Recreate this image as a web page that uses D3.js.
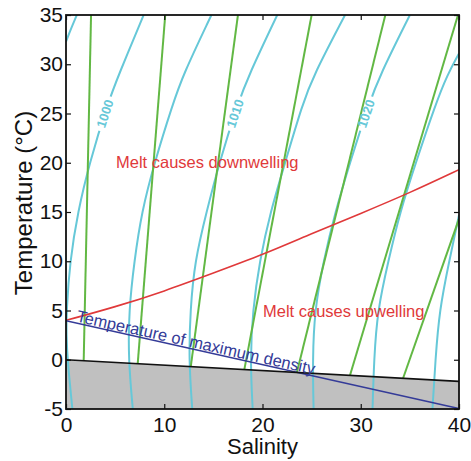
<!DOCTYPE html>
<html>
<head>
<meta charset="utf-8">
<script src="https://cdn.jsdelivr.net/npm/d3@7"></script>
<style>
  html, body { margin: 0; padding: 0; background: #fff; }
  svg { display: block; font-family: "Liberation Sans", Arial, sans-serif; }
</style>
</head>
<body>
<svg id="chart" width="471" height="461"></svg>
<script>
// Axis ticks
const salinityTicks = [0, 10, 20, 30, 40];
const temperatureTicks = [-5, 0, 5, 10, 15, 20, 25, 30, 35];

// Freezing point of seawater [salinity, temperature]
const freezingLine = [[0, 0], [40, -2.2]];
// Temperature of maximum density
const maxDensityLine = [[0, 3.96], [40, -4.95]];
// Boundary between melt-driven downwelling and upwelling
const meltLine = [[0, 4.0], [5, 5.35], [10, 6.95], [15, 8.8], [20, 10.65],
                  [25, 12.8], [30, 14.85], [35, 16.95], [40, 19.3]];

// Meltwater mixing lines, from the freezing line upward
const mixingLines = [
  [[1.8, -0.1], [2.55, 35]],
  [[7.3, -0.4], [10.1, 35]],
  [[12.7, -0.7], [17.5, 35]],
  [[18.15, -1.0], [25.0, 35]],
  [[23.5, -1.3], [32.5, 35]],
  [[28.9, -1.6], [39.9, 35]],
  [[34.3, -1.9], [40, 14.3]]
];

// Density contours (kg/m3), points as [salinity, temperature]
const iso995 = [[1.1, 35], [0.55, 33.7], [0, 32.3]];
const iso1000 = [[7.9, 35], [5.35, 28.9], [4.2, 25.9], [2.4, 20], [1.2, 15], [0.4, 10],
                 [0.05, 5], [0.04, 2.5], [0.15, 0], [0.65, -5]];
const iso1005 = [[14.8, 35], [11.9, 28.9], [10.85, 25.9], [9.0, 20], [7.7, 15], [6.95, 10],
                 [6.4, 5], [6.35, 0], [6.8, -5]];
const iso1010 = [[21.5, 35], [18.6, 28.9], [17.45, 25.9], [15.6, 20], [14.3, 15], [13.1, 10],
                 [12.65, 5], [12.5, 0], [12.85, -5]];
const iso1015 = [[28.4, 35], [25.2, 28.9], [24.05, 25.9], [22.3, 20], [20.8, 15], [19.7, 10],
                 [19.0, 5], [18.75, 0], [19.0, -5]];
const iso1020 = [[35.0, 35], [31.95, 28.9], [30.8, 25.9], [28.9, 20], [27.4, 15], [26.2, 10],
                 [25.3, 5], [25.1, 0], [25.2, -5]];
const iso1025 = [[40, 31.1], [38.8, 28.9], [37.6, 25.9], [35.6, 20], [34.0, 15], [32.8, 10],
                 [31.7, 5], [31.35, 0], [31.2, -5]];
const iso1030 = [[40, 14.7], [39.0, 10], [38.0, 5], [37.6, 0], [37.3, -5]];

const densityLevels = [995, 1000, 1005, 1010, 1015, 1020, 1025, 1030];
const densityCurves = [iso995, iso1000, iso1005, iso1010, iso1015, iso1020, iso1025, iso1030];
const labelledLevels = [1000, 1010, 1020];

const annotations = ["Melt causes downwelling", "Melt causes upwelling", "Temperature of maximum density"];

// ---- layout ----
const plotLeft = 66, plotRight = 459, plotTop = 15, plotBottom = 409;
const x = d3.scaleLinear().domain([0, 40]).range([plotLeft, plotRight]);
const y = d3.scaleLinear().domain([-5, 35]).range([plotBottom, plotTop]);

const CYAN = "#66c8d8", GREEN = "#62b844", RED = "#e0393a", BLUE = "#343b98";

const svg = d3.select("#chart");
const defs = svg.append("defs");
defs.append("clipPath").attr("id", "plotClip")
  .append("rect").attr("x", plotLeft).attr("y", plotTop)
  .attr("width", plotRight - plotLeft).attr("height", plotBottom - plotTop);

const plot = svg.append("g").attr("clip-path", "url(#plotClip)");

const line = d3.line().x(d => x(d[0])).y(d => y(d[1]));
const smooth = d3.line().x(d => x(d[0])).y(d => y(d[1])).curve(d3.curveBasis);

// ice region below the freezing line
plot.append("path")
  .datum(freezingLine)
  .attr("d", d3.area().x(d => x(d[0])).y0(y(-5)).y1(d => y(d[1])))
  .attr("fill", "#c0c0c0");

// density contours (masked where labels sit)
const mask = defs.append("mask").attr("id", "labelGaps")
  .attr("maskUnits", "userSpaceOnUse").attr("x", 0).attr("y", 0).attr("width", 471).attr("height", 461);
mask.append("rect").attr("width", 471).attr("height", 461).attr("fill", "#fff");

const isoGroup = plot.append("g").attr("mask", "url(#labelGaps)");
const isoPaths = isoGroup.selectAll("path")
  .data(densityCurves)
  .join("path")
  .attr("d", smooth)
  .attr("fill", "none")
  .attr("stroke", CYAN)
  .attr("stroke-width", 2);

// contour labels placed on the drawn curves at 25 °C
const LABEL_T = 25;
const labelLayer = svg.append("g");
isoPaths.each(function(d, i) {
  const level = densityLevels[i];
  if (!labelledLevels.includes(level)) return;
  const path = this;
  const total = path.getTotalLength();
  const target = y(LABEL_T);
  let best = 0, bestErr = Infinity;
  for (let l = 0; l <= total; l += 0.25) {
    const p = path.getPointAtLength(l);
    const err = Math.abs(p.y - target);
    if (err < bestErr) { bestErr = err; best = l; }
  }
  const p = path.getPointAtLength(best);
  const a = path.getPointAtLength(Math.max(0, best - 6));
  const b = path.getPointAtLength(Math.min(total, best + 6));
  // text reads upward along the curve
  const angle = Math.atan2(a.y - b.y, a.x - b.x) * 180 / Math.PI;
  const tf = `translate(${p.x},${p.y}) rotate(${angle})`;
  mask.append("rect")
    .attr("x", -18).attr("y", -6).attr("width", 36).attr("height", 12)
    .attr("transform", tf).attr("fill", "#000");
  labelLayer.append("text")
    .attr("transform", tf)
    .attr("text-anchor", "middle")
    .attr("dy", "0.36em")
    .attr("font-size", 13)
    .attr("font-weight", "bold")
    .attr("fill", CYAN)
    .text(level);
});

// mixing lines
plot.append("g").selectAll("path")
  .data(mixingLines)
  .join("path")
  .attr("d", line)
  .attr("fill", "none")
  .attr("stroke", GREEN)
  .attr("stroke-width", 2);

// melt line
plot.append("path").datum(meltLine)
  .attr("d", smooth).attr("fill", "none")
  .attr("stroke", RED).attr("stroke-width", 1.6);

// temperature of maximum density
plot.append("path").datum(maxDensityLine)
  .attr("d", line).attr("fill", "none")
  .attr("stroke", BLUE).attr("stroke-width", 1.6);

// freezing line
plot.append("path").datum(freezingLine)
  .attr("d", line).attr("fill", "none")
  .attr("stroke", "#111").attr("stroke-width", 1.6);

// annotations
svg.append("text")
  .attr("x", 116).attr("y", 168)
  .attr("font-size", 16.5).attr("fill", RED)
  .text(annotations[0]);
svg.append("text")
  .attr("x", 263).attr("y", 317)
  .attr("font-size", 16.5).attr("fill", RED)
  .text(annotations[1]);

const tmdStart = 0.95;
const tmdAngle = Math.atan2(y(maxDensityLine[1][1]) - y(maxDensityLine[0][1]),
                            x(maxDensityLine[1][0]) - x(maxDensityLine[0][0])) * 180 / Math.PI;
const tmdT = maxDensityLine[0][1] + (maxDensityLine[1][1] - maxDensityLine[0][1]) * tmdStart / 40;
svg.append("text")
  .attr("transform", `translate(${x(tmdStart)},${y(tmdT)}) rotate(${tmdAngle}) translate(0,-1.5)`)
  .attr("font-size", 16.5).attr("fill", BLUE)
  .text(annotations[2]);

// axes with inward ticks on all sides; plain hyphen for negatives
const tickLen = 5;
const axisFont = 21;
const plain = d => String(d);
const gx = svg.append("g").attr("transform", `translate(0,${plotBottom})`)
  .call(d3.axisBottom(x).tickValues(salinityTicks).tickFormat(plain)
    .tickSizeInner(-tickLen).tickSizeOuter(0).tickPadding(8));
const gy = svg.append("g").attr("transform", `translate(${plotLeft},0)`)
  .call(d3.axisLeft(y).tickValues(temperatureTicks).tickFormat(plain)
    .tickSizeInner(-tickLen).tickSizeOuter(0).tickPadding(3));
const gt = svg.append("g").attr("transform", `translate(0,${plotTop})`)
  .call(d3.axisTop(x).tickValues(salinityTicks).tickSizeInner(-tickLen).tickSizeOuter(0).tickFormat(""));
const gr = svg.append("g").attr("transform", `translate(${plotRight},0)`)
  .call(d3.axisRight(y).tickValues(temperatureTicks).tickSizeInner(-tickLen).tickSizeOuter(0).tickFormat(""));
[gx, gy, gt, gr].forEach(g => {
  g.select(".domain").remove();
  g.selectAll("line").attr("stroke", "#111").attr("stroke-width", 1.2);
  g.selectAll("text").attr("font-size", axisFont).attr("fill", "#111")
    .attr("font-family", "'Liberation Sans', Arial, sans-serif");
});

svg.append("rect")
  .attr("x", plotLeft).attr("y", plotTop).attr("width", plotRight - plotLeft).attr("height", plotBottom - plotTop)
  .attr("fill", "none").attr("stroke", "#111").attr("stroke-width", 1.8);

// axis titles
svg.append("text")
  .attr("x", (plotLeft + plotRight) / 2).attr("y", 454)
  .attr("text-anchor", "middle").attr("font-size", 22).attr("fill", "#111")
  .text("Salinity");
svg.append("text")
  .attr("transform", `translate(32,203) rotate(-90)`)
  .attr("text-anchor", "middle").attr("font-size", 24).attr("fill", "#111")
  .text("Temperature (°C)");
</script>
</body>
</html>
